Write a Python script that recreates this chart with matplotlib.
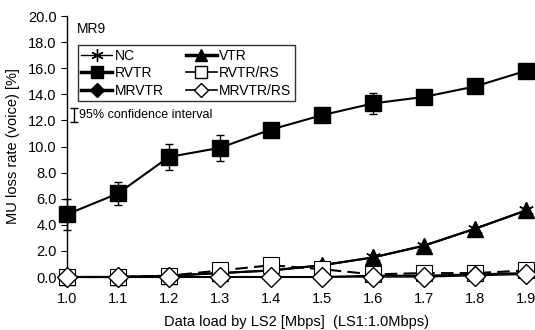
import matplotlib.pyplot as plt
from matplotlib.lines import Line2D

plt.rcParams['font.family'] = ['Liberation Sans', 'DejaVu Sans']

# data load by LS2 [Mbps]
loads = [1.0, 1.1, 1.2, 1.3, 1.4, 1.5, 1.6, 1.7, 1.8, 1.9]

# MU loss rate (voice) [%]
nc = [0.0, 0.0, 0.1, 0.3, 0.5, 0.9, 1.5, 2.4, 3.7, 5.1]
vtr = [0.0, 0.0, 0.1, 0.3, 0.5, 0.9, 1.5, 2.4, 3.7, 5.1]
rvtr = [4.8, 6.4, 9.2, 9.9, 11.3, 12.4, 13.3, 13.8, 14.6, 15.8]
rvtr_err = [1.2, 0.9, 1.0, 1.0, 0.3, 0.3, 0.8, 0.5, 0.3, 0.4]
rvtr_rs = [0.0, 0.0, 0.1, 0.5, 0.9, 0.6, 0.2, 0.3, 0.3, 0.5]
mrvtr = [0.0, 0.0, 0.0, 0.0, 0.0, 0.0, 0.1, 0.1, 0.2, 0.3]
mrvtr_rs = [0.0, 0.0, 0.0, 0.0, 0.0, 0.0, 0.0, 0.0, 0.1, 0.2]

fig = plt.figure(figsize=(5.35, 3.3), dpi=100)
ax = fig.add_axes([0.1252, 0.1606, 0.858, 0.7909])

k = dict(color='black', clip_on=False, zorder=3)
ax.plot(loads, nc, marker=(6, 2, 0), ms=11, mew=1.0, lw=1.5, **k)
ax.plot(loads, vtr, marker='^', ms=12, lw=1.5, mfc='black', **k)
ax.errorbar(loads, rvtr, yerr=rvtr_err, marker='s', ms=11, lw=1.5,
            mfc='black', capsize=3, elinewidth=1, capthick=1, **k)
ax.plot(loads, rvtr_rs, marker='s', ms=11, lw=1.5, ls=(0, (6, 3)),
        mfc='white', mew=0.8, **k)
ax.plot(loads, mrvtr, marker='D', ms=8, lw=1.5, mfc='black', **k)
ax.plot(loads, mrvtr_rs, marker='D', ms=10, lw=1.0, mfc='white', mew=1.0, **k)

ax.set_xlim(1.0, 1.9)
ax.set_ylim(0, 20)
ax.set_xticks(loads)
ax.set_xticklabels([f'{v:.1f}' for v in loads])
ax.set_yticks(range(0, 21, 2))
ax.set_yticklabels([f'{v:.1f}' for v in range(0, 21, 2)])
ax.tick_params(axis='x', length=0, pad=11, labelsize=10.5)
ax.tick_params(axis='y', length=4, direction='out', labelsize=10.5)
for s in ['top', 'right', 'bottom']:
    ax.spines[s].set_visible(False)
ax.spines['left'].set_linewidth(1.0)

ax.set_xlabel('Data load by LS2 [Mbps]  (LS1:1.0Mbps)', fontsize=10.5, labelpad=6)
ax.set_ylabel('MU loss rate (voice) [%]', fontsize=10.5, labelpad=6)

ax.text(0.022, 0.935, 'MR9', transform=ax.transAxes, fontsize=10)

handles = [
    Line2D([], [], color='black', marker=(6, 2, 0), ms=9, lw=1),
    Line2D([], [], color='black', marker='s', ms=9, lw=2.5),
    Line2D([], [], color='black', marker='D', ms=7, lw=2.5),
    Line2D([], [], color='black', marker='^', ms=9, lw=2.5),
    Line2D([], [], color='black', marker='s', ms=9, lw=1.2, mfc='white'),
    Line2D([], [], color='black', marker='D', ms=7, lw=1.2, mfc='white'),
]
labels = ['NC', 'RVTR', 'MRVTR', 'VTR', 'RVTR/RS', 'MRVTR/RS']
leg = ax.legend(handles, labels, ncol=2, loc='upper left',
                bbox_to_anchor=(0.024, 0.888), fontsize=10, frameon=True,
                fancybox=False, edgecolor='black', handlelength=2.2,
                handletextpad=0.2, columnspacing=1.6, labelspacing=0.25,
                borderpad=0.25, borderaxespad=0)
leg.get_frame().set_linewidth(1.0)

ax.errorbar([0.015], [0.62], yerr=[0.028], transform=ax.transAxes,
            color='black', capsize=3, elinewidth=1, capthick=1, clip_on=False)
ax.text(0.026, 0.62, '95% confidence interval', transform=ax.transAxes,
        fontsize=9, va='center')

fig.savefig('out.png', dpi=100)
